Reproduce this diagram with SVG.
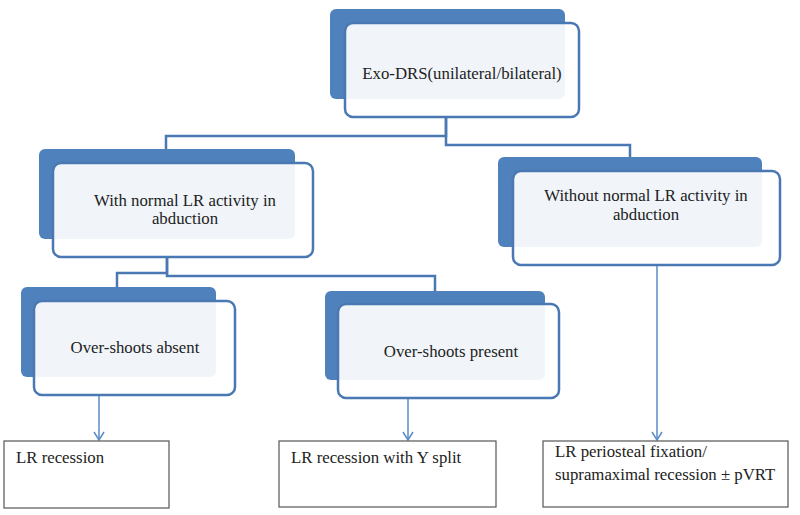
<svg xmlns="http://www.w3.org/2000/svg" width="800" height="515" viewBox="0 0 800 515">
<defs>
<style>
.back{fill:#4f81bd;}
.front{fill:#ffffff;fill-opacity:0.92;stroke:#4a78b3;stroke-width:2.5;}
.t{font-size:16.8px;fill:#222;}
.c{text-anchor:middle;}
.elbow{fill:none;stroke:#4a78b3;stroke-width:2.5;}
.arr{fill:none;stroke:#5b8bc8;stroke-width:1.5;}
.leaf{fill:#fff;stroke:#555;stroke-width:1.2;}
</style>
<marker id="ah" viewBox="0 0 12 12" refX="11" refY="6" markerWidth="12" markerHeight="12" markerUnits="userSpaceOnUse" orient="auto">
<path d="M3,1 L11,6 L3,11" fill="none" stroke="#5b8bc8" stroke-width="1.5"/>
</marker>
</defs>
<rect width="800" height="515" fill="#ffffff"/>

<g id="connectors">
<path class="elbow" d="M446,118 V136 H166 V149"/>
<path class="elbow" d="M446,118 V145 H630 V157"/>
<path class="elbow" d="M167,257 V273 H117 V287"/>
<path class="elbow" d="M167,257 V276 H435 V291"/>
<path class="arr" d="M99,395 V440" marker-end="url(#ah)"/>
<path class="arr" d="M408,398 V440" marker-end="url(#ah)"/>
<path class="arr" d="M657,265 V440" marker-end="url(#ah)"/>
</g>

<g font-family="Liberation Serif, Times New Roman, DejaVu Serif, serif">
<g id="n-exo">
<rect class="back" x="330" y="9" width="235" height="90" rx="6"/>
<rect class="front" x="345" y="23" width="234" height="94" rx="8"/>
<text class="t c" x="462" y="79">Exo-DRS(unilateral/bilateral)</text>
</g>

<g id="n-with">
<rect class="back" x="39" y="149" width="256" height="90" rx="6"/>
<rect class="front" x="53" y="163" width="260" height="94" rx="8"/>
<text class="t c" x="185" y="206">With normal LR activity in</text>
<text class="t c" x="185" y="224">abduction</text>
</g>

<g id="n-without">
<rect class="back" x="498" y="157" width="264" height="90" rx="6"/>
<rect class="front" x="513" y="171" width="267" height="94" rx="8"/>
<text class="t c" x="646" y="201">Without normal LR activity in</text>
<text class="t c" x="646" y="220">abduction</text>
</g>

<g id="n-absent">
<rect class="back" x="21" y="287" width="195" height="90" rx="6"/>
<rect class="front" x="34" y="301" width="201" height="94" rx="8"/>
<text class="t c" x="135" y="353">Over-shoots absent</text>
</g>

<g id="n-present">
<rect class="back" x="325" y="291" width="220" height="89" rx="6"/>
<rect class="front" x="338" y="304" width="221" height="94" rx="8"/>
<text class="t c" x="451" y="357">Over-shoots present</text>
</g>

<g id="n-rec">
<rect class="leaf" x="4" y="441" width="165" height="67"/>
<text class="t" x="16" y="463">LR recession</text>
</g>

<g id="n-rec-y">
<rect class="leaf" x="279" y="441" width="217" height="66"/>
<text class="t" x="291" y="463">LR recession with Y split</text>
</g>

<g id="n-perio">
<rect class="leaf" x="543" y="441" width="245" height="66"/>
<text class="t" x="555" y="457">LR periosteal fixation/</text>
<text class="t" x="555" y="480">supramaximal recession ± pVRT</text>
</g>
</g>
</svg>
